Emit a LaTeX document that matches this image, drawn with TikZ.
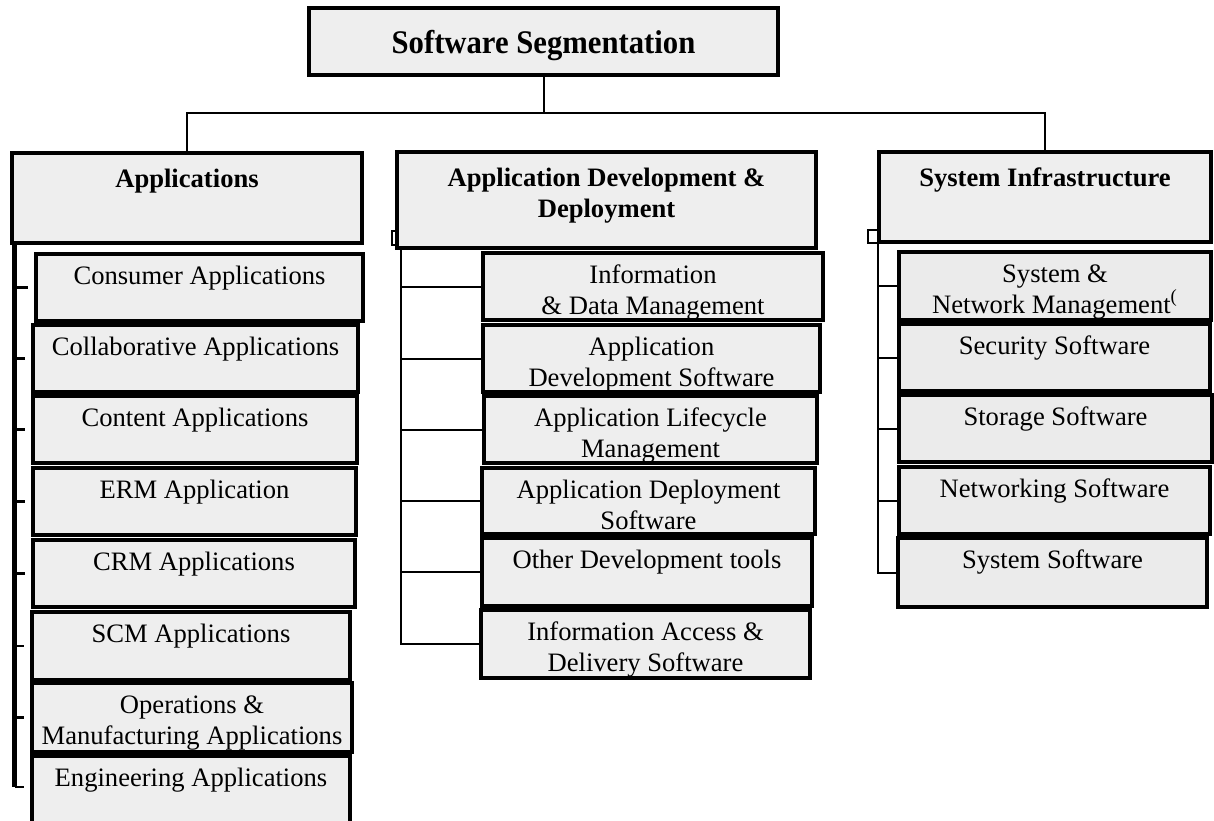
\documentclass[tikz,border=0pt]{standalone}
\usepackage{fontspec}
\setmainfont{Liberation Serif}
\usepackage{graphicx}
\usetikzlibrary{calc}

\tikzset{
  box/.style={draw, line width=1.6pt, fill=gray!13, inner sep=0pt, outer sep=0pt, anchor=north west},
  title/.style={box},
  title text/.style={anchor=north, inner sep=0pt, align=center, yshift=-6pt,
    font=\bfseries\fontsize{16.5}{19}\selectfont},
  head/.style={box},
  head text/.style={anchor=north, inner sep=0pt, align=center, yshift=-3.7pt,
    font=\bfseries\fontsize{13.3}{15.5}\selectfont},
  sub/.style={box},
  sub text/.style={anchor=north, inner sep=0pt, align=center, yshift=-1.7pt,
    font=\fontsize{13.3}{15.5}\selectfont},
  subdark/.style={box, fill=gray!16},
  subdark text/.style={sub text},
  conn/.style={line width=1pt},
  stub/.style={line width=1.3pt},
  spine/.style={line width=2.5pt},
  handle/.style={line width=0.8pt},
}

% box from (x1,y1) to (x2,y2) in pixel units, label clipped to the box
\newcommand\cellbox[7]{%
  \node[#1, minimum width={(#5-#3)*0.5pt}, minimum height={(#6-#4)*0.5pt}] (#2) at (#3,#4) {};
  \begin{scope}
    \clip (#2.north west) rectangle (#2.south east);
    \node[#1 text] (#2-t) at (#2.north) {\rule{0pt}{1em}#7};
  \end{scope}}

\begin{document}
\begin{tikzpicture}[x=0.5pt, y=-0.5pt]
\useasboundingbox (0,0) rectangle (1214,820);
\clip (0,0) rectangle (1214,820);

% root
\cellbox{title}{root}{309}{8}{778}{75}{\scalebox{0.93}[1]{Software Segmentation}}

% three segments
\cellbox{head}{app}{12}{153}{362}{243}{Applications}
\cellbox{head}{add}{397}{152}{816}{248}{Application Development \&\\Deployment}
\cellbox{head}{si}{879}{152}{1211}{242}{System Infrastructure}

% applications
\cellbox{sub}{a1}{36}{254}{363}{321}{Consumer Applications}
\cellbox{sub}{a2}{33}{325}{358}{392}{Collaborative Applications}
\cellbox{sub}{a3}{33}{396}{357}{463}{Content Applications}
\cellbox{sub}{a4}{33}{468}{356}{535}{ERM Application}
\cellbox{sub}{a5}{33}{540}{355}{607}{CRM Applications}
\cellbox{sub}{a6}{32}{612}{350}{680}{SCM Applications}
\cellbox{sub}{a7}{32}{683}{352}{752}{Operations \&\\Manufacturing Applications}
\cellbox{sub}{a8}{32}{756}{350}{840}{Engineering Applications}

% application development & deployment
\cellbox{sub}{d1}{483}{253}{823}{320}{Information\\\& Data Management}
\cellbox{sub}{d2}{483}{325}{820}{392}{Application\\Development Software}
\cellbox{sub}{d3}{484}{396}{817}{463}{Application Lifecycle\\Management}
\cellbox{sub}{d4}{482}{468}{815}{534}{Application Deployment\\Software}
\cellbox{sub}{d5}{482}{538}{812}{606}{Other Development tools}
\cellbox{sub}{d6}{481}{610}{810}{678}{Information Access \&\\Delivery Software}

% system infrastructure
\cellbox{subdark}{s1}{899}{252}{1211}{320}{System \&\\Network Management\textsuperscript{(}}
\cellbox{subdark}{s2}{899}{324}{1210}{391}{Security Software}
\cellbox{subdark}{s3}{899}{395}{1212}{462}{Storage Software}
\cellbox{subdark}{s4}{899}{467}{1210}{534}{Networking Software}
\cellbox{subdark}{s5}{898}{538}{1207}{607}{System Software}

% root to segments
\draw[conn] (root.south) -- ++(0,38) coordinate (bus) -| (app.north);
\draw[conn] (bus) -| (si.north);

% applications spine with short stubs
\coordinate (appsp) at ([xshift=1.25pt]app.south west);
\coordinate (append) at ($(a8.north west -| appsp)+(0,31)$);
\draw[spine] (appsp) -- (append);
\foreach \c in {a1,a2,a3,a4,a5,a6,a7}
  \draw[stub] (\c.west -| appsp) -- ([xshift=-4pt]\c.west);
\draw[stub] (append) -- ($(a8.north west)+(-8,31)$);

% application development spine
\draw[handle] ($(add.south west)+(-5,-17)$) rectangle ($(add.south west)+(0,-3)$);
\coordinate (addsp) at ([xshift=2pt]add.south west);
\draw[conn] (addsp) |- (d6.west);
\foreach \c in {d1,d2,d3,d4,d5}
  \draw[conn] (\c.west -| addsp) -- (\c.west);

% system infrastructure spine
\draw[handle] ($(si.south west)+(-11,-12)$) rectangle ($(si.south west)+(0,1)$);
\coordinate (sisp) at ([xshift=-0.5pt]si.south west);
\draw[conn] (sisp) |- (s5.west);
\foreach \c in {s1,s2,s3,s4}
  \draw[conn] (\c.west -| sisp) -- (\c.west);
\end{tikzpicture}
\end{document}
